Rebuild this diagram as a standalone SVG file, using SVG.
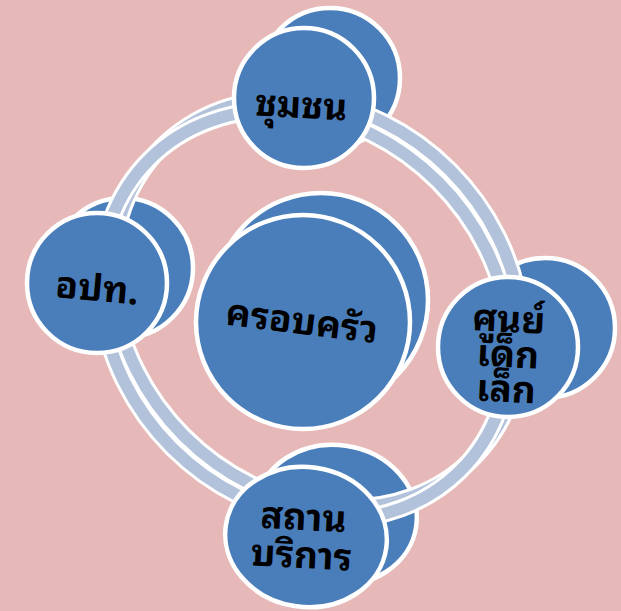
<svg xmlns="http://www.w3.org/2000/svg" width="621" height="611" viewBox="0 0 621 611">
<defs>
<style>
.bg{fill:#e6b9b8}
.nd{fill:#4a7ebb;stroke:#ffffff;stroke-width:4.5}
.rw{fill:none;stroke:#ffffff;stroke-width:18}
.rb{fill:none;stroke:#b3c2db;stroke-width:12}
.t{font-family:"Noto Sans Thai Looped","Tahoma","Loma","Garuda","Noto Sans Thai","Noto Sans","DejaVu Sans",sans-serif;font-weight:bold;font-size:37px;fill:#000000;text-anchor:middle}
</style>
</defs>
<rect class="bg" x="0" y="0" width="621" height="611"/>
<g id="node-backs">
<circle class="nd" cx="330" cy="78" r="70"/>
<circle class="nd" cx="123" cy="268" r="70"/>
<circle class="nd" cx="321" cy="300" r="107"/>
<circle class="nd" cx="545" cy="328" r="70"/>
<ellipse class="nd" cx="336" cy="515" rx="81" ry="70" transform="rotate(8 336 515)"/>
</g>
<g id="connectors">
<ellipse class="rw" cx="0" cy="0" rx="220" ry="188" transform="translate(317 303) rotate(45)"/>
<ellipse class="rb" cx="0" cy="0" rx="220" ry="188" transform="translate(317 303) rotate(45)"/>
<ellipse class="rw" cx="0" cy="0" rx="220" ry="188" transform="translate(305 315) rotate(45)"/>
<ellipse class="rb" cx="0" cy="0" rx="220" ry="188" transform="translate(305 315) rotate(45)"/>
</g>
<g id="node-community">
<circle class="nd" cx="304" cy="98" r="70"/>
<text class="t" x="301" y="118" transform="rotate(3 301 108)">ชุมชน</text>
</g>
<g id="node-local-gov">
<circle class="nd" cx="97" cy="283" r="70"/>
<text class="t" x="97" y="301" transform="rotate(5 97 290)">อปท.</text>
</g>
<g id="node-family">
<circle class="nd" cx="303" cy="322" r="107"/>
<text class="t" x="302" y="334" transform="rotate(7 302 322)">ครอบครัว</text>
</g>
<g id="node-childcare">
<circle class="nd" cx="508" cy="347" r="70"/>
<text class="t" x="507" y="332" transform="rotate(3 507 355)">ศูนย์</text>
<text class="t" x="508" y="367" transform="rotate(3 507 355)">เด็ก</text>
<text class="t" x="508" y="402" transform="rotate(3 507 355)">เล็ก</text>
</g>
<g id="node-service">
<ellipse class="nd" cx="306" cy="537" rx="81" ry="70" transform="rotate(8 306 537)"/>
<text class="t" x="302" y="530" transform="rotate(3 302 548)">สถาน</text>
<text class="t" x="302" y="568" transform="rotate(3 302 548)">บริการ</text>
</g>
</svg>
